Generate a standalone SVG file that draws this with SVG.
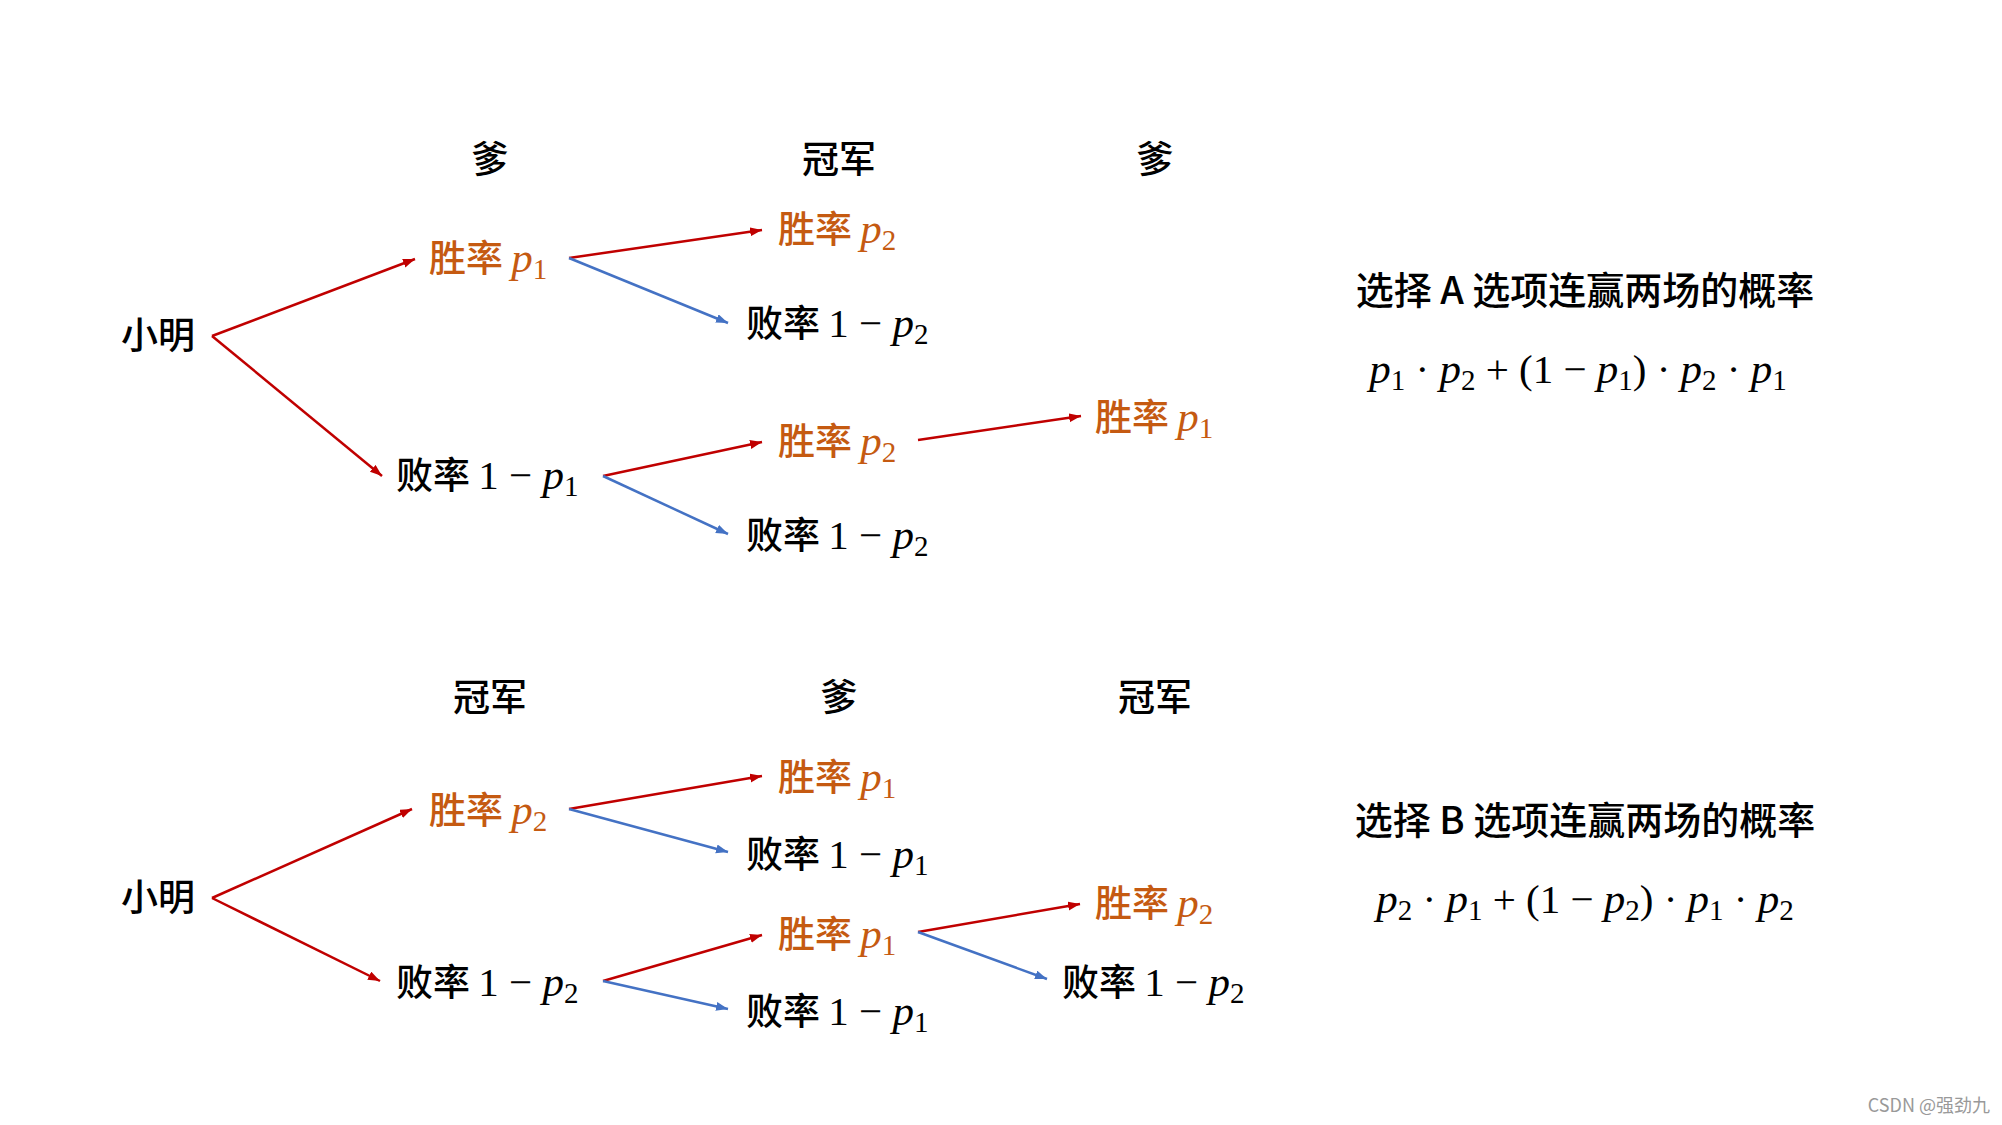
<svg xmlns="http://www.w3.org/2000/svg" width="2002" height="1125" viewBox="0 0 2002 1125">
<style>
.cn{font-family:"Noto Sans CJK SC","Liberation Sans",sans-serif;font-size:37px;font-weight:500;fill:#000}
.hd{text-anchor:middle}
.win{fill:#C55A11}
.m{font-family:"Liberation Serif","Noto Sans CJK SC",serif;font-size:41px;font-weight:400}
.it{font-family:"Liberation Serif",serif;font-style:italic;font-size:43px;font-weight:400}
.sub{font-family:"Liberation Serif",serif;font-size:29px;font-style:normal;font-weight:400}
.fm{font-family:"Liberation Serif",serif;font-size:41px;fill:#000;text-anchor:middle}
.fm .it{font-size:43px}
.r{stroke:#C00000;stroke-width:2.5;fill:none;marker-end:url(#ar)}
.b{stroke:#4472C4;stroke-width:2.5;fill:none;marker-end:url(#ab)}
.wm{font-family:"Noto Sans CJK SC",sans-serif;font-size:18px;fill:#999;text-anchor:end}
.t{font-size:38px}
</style>
<defs>
<marker id="ar" markerUnits="userSpaceOnUse" markerWidth="13" markerHeight="10" refX="12" refY="4.5" orient="auto"><path d="M0,0 L12,4.5 L0,9 z" fill="#C00000"/></marker>
<marker id="ab" markerUnits="userSpaceOnUse" markerWidth="13" markerHeight="10" refX="12" refY="4.5" orient="auto"><path d="M0,0 L12,4.5 L0,9 z" fill="#4472C4"/></marker>
</defs>
<rect width="2002" height="1125" fill="#fff"/>
<g id="connectors">
<line class="r" x1="212" y1="336" x2="415" y2="259"/>
<line class="r" x1="212" y1="336" x2="382" y2="476"/>
<line class="r" x1="569" y1="258" x2="762" y2="230"/>
<line class="b" x1="569" y1="258" x2="728" y2="323"/>
<line class="r" x1="603" y1="476" x2="762" y2="442"/>
<line class="b" x1="603" y1="476" x2="728" y2="534"/>
<line class="r" x1="918" y1="440" x2="1081" y2="416"/>
<line class="r" x1="212" y1="898" x2="412" y2="809"/>
<line class="r" x1="212" y1="898" x2="380" y2="981"/>
<line class="r" x1="569" y1="809" x2="762" y2="776"/>
<line class="b" x1="569" y1="809" x2="728" y2="852"/>
<line class="r" x1="603" y1="981" x2="762" y2="935"/>
<line class="b" x1="603" y1="981" x2="728" y2="1009"/>
<line class="r" x1="918" y1="932" x2="1080" y2="904"/>
<line class="b" x1="918" y1="932" x2="1047" y2="979"/>
</g>
<g id="headers-a">
<text class="cn hd" x="490" y="173">爹</text>
<text class="cn hd" x="839" y="173">冠军</text>
<text class="cn hd" x="1155" y="173">爹</text>
</g>
<g id="a-root"><text class="cn" x="121" y="349">小明</text></g>
<g id="a-w1"><text class="cn win" x="429" y="272">胜率 <tspan class="it">p</tspan><tspan class="sub" dy="7">1</tspan></text></g>
<g id="a-l1"><text class="cn" x="396" y="489">败率 <tspan class="m">1 − </tspan><tspan class="it">p</tspan><tspan class="sub" dy="7">1</tspan></text></g>
<g id="a-w1w2"><text class="cn win" x="778" y="243">胜率 <tspan class="it">p</tspan><tspan class="sub" dy="7">2</tspan></text></g>
<g id="a-w1l2"><text class="cn" x="746" y="337">败率 <tspan class="m">1 − </tspan><tspan class="it">p</tspan><tspan class="sub" dy="7">2</tspan></text></g>
<g id="a-l1w2"><text class="cn win" x="778" y="455">胜率 <tspan class="it">p</tspan><tspan class="sub" dy="7">2</tspan></text></g>
<g id="a-l1l2"><text class="cn" x="746" y="549">败率 <tspan class="m">1 − </tspan><tspan class="it">p</tspan><tspan class="sub" dy="7">2</tspan></text></g>
<g id="a-l1w2w1"><text class="cn win" x="1095" y="431">胜率 <tspan class="it">p</tspan><tspan class="sub" dy="7">1</tspan></text></g>
<g id="a-summary">
<text class="cn hd t" x="1585" y="304">选择 A 选项连赢两场的概率</text>
<text class="fm" x="1578" y="383"><tspan class="it">p</tspan><tspan class="sub" dy="7">1</tspan><tspan dy="-7"> · </tspan><tspan class="it">p</tspan><tspan class="sub" dy="7">2</tspan><tspan dy="-7"> + (1 − </tspan><tspan class="it">p</tspan><tspan class="sub" dy="7">1</tspan><tspan dy="-7">) · </tspan><tspan class="it">p</tspan><tspan class="sub" dy="7">2</tspan><tspan dy="-7"> · </tspan><tspan class="it">p</tspan><tspan class="sub" dy="7">1</tspan></text>
</g>
<g id="headers-b">
<text class="cn hd" x="490" y="711">冠军</text>
<text class="cn hd" x="839" y="711">爹</text>
<text class="cn hd" x="1155" y="711">冠军</text>
</g>
<g id="b-root"><text class="cn" x="121" y="911">小明</text></g>
<g id="b-w2"><text class="cn win" x="429" y="824">胜率 <tspan class="it">p</tspan><tspan class="sub" dy="7">2</tspan></text></g>
<g id="b-l2"><text class="cn" x="396" y="996">败率 <tspan class="m">1 − </tspan><tspan class="it">p</tspan><tspan class="sub" dy="7">2</tspan></text></g>
<g id="b-w2w1"><text class="cn win" x="778" y="791">胜率 <tspan class="it">p</tspan><tspan class="sub" dy="7">1</tspan></text></g>
<g id="b-w2l1"><text class="cn" x="746" y="868">败率 <tspan class="m">1 − </tspan><tspan class="it">p</tspan><tspan class="sub" dy="7">1</tspan></text></g>
<g id="b-l2w1"><text class="cn win" x="778" y="948">胜率 <tspan class="it">p</tspan><tspan class="sub" dy="7">1</tspan></text></g>
<g id="b-l2l1"><text class="cn" x="746" y="1025">败率 <tspan class="m">1 − </tspan><tspan class="it">p</tspan><tspan class="sub" dy="7">1</tspan></text></g>
<g id="b-l2w1w2"><text class="cn win" x="1095" y="917">胜率 <tspan class="it">p</tspan><tspan class="sub" dy="7">2</tspan></text></g>
<g id="b-l2w1l2"><text class="cn" x="1062" y="996">败率 <tspan class="m">1 − </tspan><tspan class="it">p</tspan><tspan class="sub" dy="7">2</tspan></text></g>
<g id="b-summary">
<text class="cn hd t" x="1585" y="834">选择 B 选项连赢两场的概率</text>
<text class="fm" x="1585" y="913"><tspan class="it">p</tspan><tspan class="sub" dy="7">2</tspan><tspan dy="-7"> · </tspan><tspan class="it">p</tspan><tspan class="sub" dy="7">1</tspan><tspan dy="-7"> + (1 − </tspan><tspan class="it">p</tspan><tspan class="sub" dy="7">2</tspan><tspan dy="-7">) · </tspan><tspan class="it">p</tspan><tspan class="sub" dy="7">1</tspan><tspan dy="-7"> · </tspan><tspan class="it">p</tspan><tspan class="sub" dy="7">2</tspan></text>
</g>
<text class="wm" x="1990" y="1112">CSDN @强劲九</text>
</svg>
